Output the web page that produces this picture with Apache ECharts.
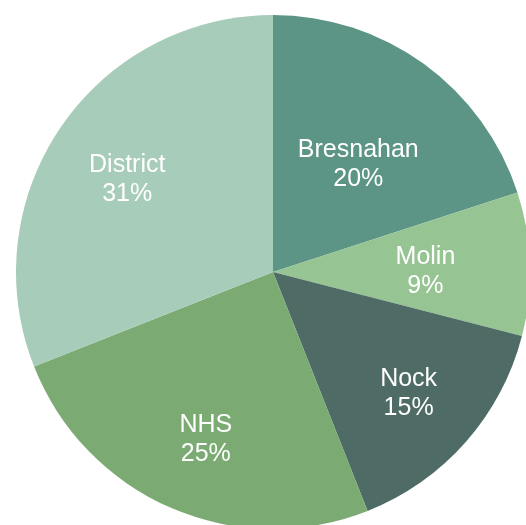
<!DOCTYPE html>
<html>
<head>
<meta charset="utf-8">
<script src="https://cdn.jsdelivr.net/npm/echarts@6/dist/echarts.min.js"></script>
<style>
  html, body { margin: 0; padding: 0; background: #ffffff; }
  #chart { width: 526px; height: 525px; }
</style>
</head>
<body>
<div id="chart"></div>
<script>
// Share of the total by source, clockwise from 12 o'clock
const categories = ['Bresnahan', 'Molin', 'Nock', 'NHS', 'District'];
const shares = [20, 9, 15, 25, 31];

// Slice fills
const sliceColors = ['#5c9585', '#96c492', '#4f6b66', '#7bab72', '#a8ccba'];
// Nudges for each label away from the default inside position
const labelOffsets = [[8, -1], [21, 4], [37, 35], [-15, 47], [-37, -18]];

const chart = echarts.init(document.getElementById('chart'), null, { renderer: 'canvas' });

chart.setOption({
  animation: false,
  backgroundColor: '#ffffff',
  series: [{
    type: 'pie',
    center: [273, 272],
    radius: [0, 257],
    startAngle: 90,
    clockwise: true,
    silent: true,
    data: categories.map((name, i) => ({
      name: name,
      value: shares[i],
      itemStyle: { color: sliceColors[i] },
      label: { offset: labelOffsets[i] }
    })),
    itemStyle: { borderWidth: 0 },
    label: {
      show: true,
      position: 'inside',
      color: '#ffffff',
      fontFamily: 'Liberation Sans, Arial, sans-serif',
      fontSize: 25,
      lineHeight: 29,
      align: 'center',
      formatter: p => p.name + '\n' + p.value + '%'
    },
    labelLine: { show: false }
  }]
});
</script>
</body>
</html>
